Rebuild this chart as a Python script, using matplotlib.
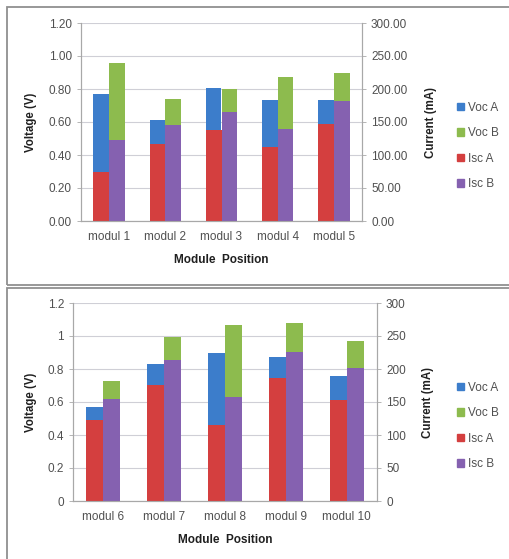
import numpy as np
from matplotlib import pyplot as plt
from matplotlib.patches import Rectangle, Patch

plt.rcParams['font.family'] = ['Liberation Sans', 'DejaVu Sans']

# data
modules_top = ['modul 1', 'modul 2', 'modul 3', 'modul 4', 'modul 5']
voc_a_top = [0.77, 0.61, 0.807, 0.732, 0.736]
voc_b_top = [0.955, 0.742, 0.797, 0.874, 0.898]
isc_a_top = [73.6, 117.0, 138.0, 112.0, 147.0]
isc_b_top = [122.0, 146.0, 165.0, 140.0, 182.0]

modules_bot = ['modul 6', 'modul 7', 'modul 8', 'modul 9', 'modul 10']
voc_a_bot = [0.571, 0.83, 0.899, 0.875, 0.758]
voc_b_bot = [0.727, 0.996, 1.067, 1.08, 0.97]
isc_a_bot = [123.0, 176.0, 115.0, 186.0, 153.0]
isc_b_bot = [154.0, 213.0, 158.0, 226.0, 201.0]

c_voc_a = '#3C7DCB'
c_voc_b = '#8DBB4E'
c_isc_a = '#D43F3F'
c_isc_b = '#8561B0'
txt = '#505050'
grid = '#CFCFD6'

fig = plt.figure(figsize=(5.10, 5.59), dpi=100)

# panel frames (two stacked screenshots)
fig.patches.append(Rectangle((7/510, 1-285/559), 1, 278/559, transform=fig.transFigure,
                             fill=False, edgecolor='#909090', lw=1.3))
fig.patches.append(Rectangle((7/510, -0.1), 1, 0.1 + 1-288/559, transform=fig.transFigure,
                             fill=False, edgecolor='#909090', lw=1.3))


def panel(rect, mods, va, vb, ia, ib, vfmt, cfmt, xlab_y, leg_y, lab_l, lab_r):
    ax = fig.add_axes(rect)
    ax2 = ax.twinx()
    x = np.arange(len(mods))
    w = 0.28
    ax.bar(x - w/2, va, w, color=c_voc_a, label='Voc A', zorder=2)
    ax.bar(x + w/2, vb, w, color=c_voc_b, label='Voc B', zorder=2)
    ax2.bar(x - w/2, ia, w, color=c_isc_a, label='Isc A')
    ax2.bar(x + w/2, ib, w, color=c_isc_b, label='Isc B')
    ax.set_xlim(-0.5, len(mods) - 0.5)
    ax.set_ylim(0, 1.2)
    ax2.set_ylim(0, 300)
    vt = np.arange(0, 1.21, 0.2)
    ct = np.arange(0, 301, 50)
    ax.set_yticks(vt)
    ax.set_yticklabels([vfmt(v) for v in vt])
    ax2.set_yticks(ct)
    ax2.set_yticklabels([cfmt(v) for v in ct])
    ax.set_xticks(x)
    ax.set_xticklabels(mods)
    ax.yaxis.grid(True, color=grid, lw=0.8, zorder=0)
    ax.set_axisbelow(True)
    for a in (ax, ax2):
        a.spines['top'].set_visible(False)
        for s in ('left', 'right', 'bottom'):
            a.spines[s].set_color('#A8A8A8')
            a.spines[s].set_linewidth(0.8)
        a.tick_params(labelsize=8.5, colors='#A8A8A8', labelcolor=txt, length=3, width=0.6)
        a.tick_params(axis='x', length=0, pad=7)
    ax.set_ylabel('Voltage (V)', fontsize=8.3, fontweight='bold', color='#202020')
    ax2.set_ylabel('Current (mA)', fontsize=8.3, fontweight='bold', color='#202020')
    ax.yaxis.set_label_coords(lab_l, 0.5)
    ax2.yaxis.set_label_coords(lab_r, 0.5)
    fig.text(rect[0] + rect[2]/2, xlab_y, 'Module  Position', ha='center', va='center',
             fontsize=8.5, fontweight='bold', color='#202020')
    handles = [Patch(color=c) for c in (c_voc_a, c_voc_b, c_isc_a, c_isc_b)]
    fig.legend(handles, ['Voc A', 'Voc B', 'Isc A', 'Isc B'], loc='center left',
               bbox_to_anchor=(446/510, leg_y), frameon=False, fontsize=8.5,
               labelcolor=txt, handlelength=0.6, handleheight=0.6, handletextpad=0.4,
               labelspacing=1.15)


panel([81/510, 1-221/559, 281/510, 198/559], modules_top, voc_a_top, voc_b_top,
      isc_a_top, isc_b_top, lambda v: '%.2f' % v, lambda v: '%.2f' % v,
      1-260/559, 1-146/559, -0.157, 1.224)
panel([73/510, 1-501/559, 304/510, 198/559], modules_bot, voc_a_bot, voc_b_bot,
      isc_a_bot, isc_b_bot, lambda v: '%g' % round(v, 1), lambda v: '%d' % v,
      1-540/559, 1-426/559, -0.118, 1.148)

fig.savefig('out.png', dpi=100)
